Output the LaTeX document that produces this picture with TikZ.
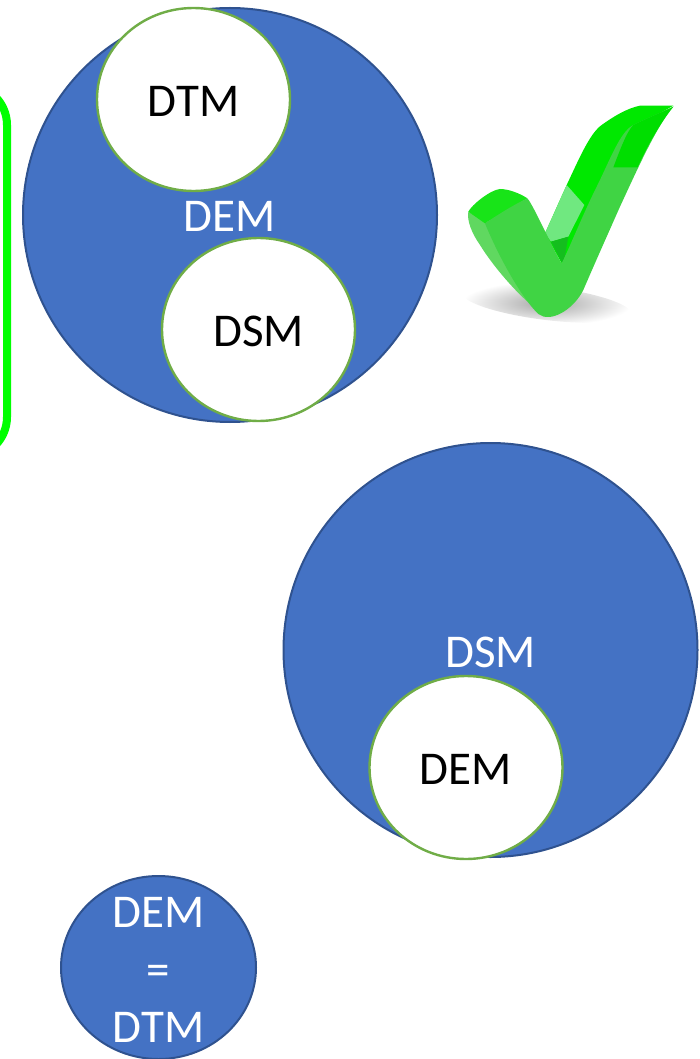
\documentclass[tikz,border=0pt]{standalone}
\usepackage{fontspec}
\setmainfont{Carlito}
\usetikzlibrary{shapes.geometric}

\definecolor{demblue}{HTML}{4472C4}
\definecolor{demedge}{HTML}{2F528F}
\definecolor{holeedge}{HTML}{70AD47}
\definecolor{framegreen}{HTML}{00FF00}

\tikzset{
    bigdisc/.style={draw=demedge,fill=demblue,ellipse,line width=2pt,inner sep=0pt,
	text=white,text height=34pt,text depth=0pt,font=\fontsize{47}{57}\selectfont},
    holedisc/.style={draw=holeedge,fill=white,ellipse,line width=2.4pt,inner sep=0pt,
	text height=34pt,text depth=0pt,
	minimum width=193pt,minimum height=183pt,font=\fontsize{47}{57}\selectfont}
}

\begin{document}
\begin{tikzpicture}[x=1pt,y=-1pt]
\clip (0,0) rectangle (699,1059);

\node [draw=framegreen,line width=8pt,rounded corners=40pt,minimum width=94pt,minimum height=372pt]
    (frame) at (-40,271) {};

\node [bigdisc,minimum width=414pt,minimum height=414pt] (demdisc) at (230,215) {DEM};
\node [holedisc] (dtmhole) at (193.5,99.5)  {DTM};
\node [holedisc] (dsmhole) at (258.5,329.5) {DSM};

\node [bigdisc,minimum width=414pt,minimum height=414pt] (dsmdisc) at (490.5,650) {DSM};
\node [holedisc] (demhole) at (466,767.5) {DEM};

\node [bigdisc,minimum width=195pt,minimum height=183pt] (flatdisc) at (158.5,967.5) {};
\node [text=white,align=center,inner sep=0pt,font=\fontsize{47}{57.5}\selectfont]
    (flattext) at (158.5,970) {DEM\\ =\\ DTM};

% check mark, drawn in crop pixels
\begin{scope}[shift={(450,90)},scale=1/3]
\shade [inner color=black!35,outer color=white,rotate around={-7:(290,640)}]
    (290,640) ellipse [x radius=255,y radius=50];
% upright
\fill [color={rgb,255:red,0;green,232;blue,0}]
    (285,430) -- (350,285) .. controls (390,200) and (420,130) .. (455,105)
    .. controls (490,80) and (530,55) .. (570,47) -- (670,47) -- (550,115) -- (335,520) -- cycle;
\fill [color={rgb,255:red,112;green,232;blue,128}]
    (350,285) -- (403,345) -- (355,440) -- (303,455) -- (285,430) -- cycle;
\fill [color={rgb,255:red,20;green,190;blue,30}]
    (303,455) -- (355,440) -- (340,525) -- cycle;
% left side
\fill [color={rgb,255:red,96;green,216;blue,96}]
    (55,365) -- (110,395) -- (250,650) .. controls (200,610) and (130,530) .. (90,465)
    .. controls (65,430) and (50,390) .. (55,365) -- cycle;
\fill [color={rgb,255:red,24;green,228;blue,24}]
    (55,365) .. controls (65,345) and (120,300) .. (150,297)
    .. controls (175,297) and (210,310) .. (232,325) -- (105,400) -- cycle;
% front
\fill [color={rgb,255:red,64;green,212;blue,68}]
    (105,400) .. controls (150,370) and (190,345) .. (232,325)
    .. controls (250,345) and (300,460) .. (335,520)
    .. controls (360,470) and (400,370) .. (440,290)
    .. controls (480,210) and (510,125) .. (550,105)
    .. controls (590,85) and (640,65) .. (670,50)
    .. controls (620,110) and (570,220) .. (510,350)
    .. controls (470,440) and (430,530) .. (400,600)
    .. controls (370,660) and (300,700) .. (265,672)
    .. controls (220,630) and (150,510) .. (105,400) -- cycle;
\fill [color={rgb,255:red,0;green,222;blue,0}]
    (550,105) .. controls (590,85) and (640,65) .. (670,50)
    .. controls (630,100) and (590,170) .. (563,232) -- (490,232) .. controls (510,180) and (530,125) .. (550,105) -- cycle;
\end{scope}
\end{tikzpicture}
\end{document}
